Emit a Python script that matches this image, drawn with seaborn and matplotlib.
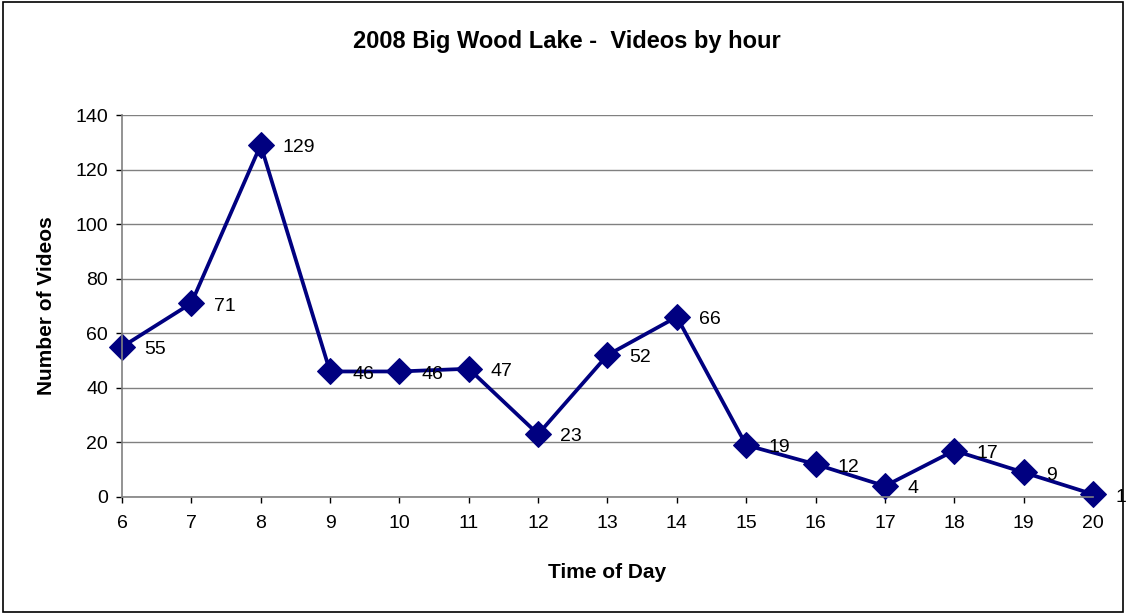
import matplotlib
matplotlib.use("Agg")
import matplotlib.pyplot as plt
import seaborn as sns
import pandas as pd
from matplotlib.patches import Rectangle

hours = [6, 7, 8, 9, 10, 11, 12, 13, 14, 15, 16, 17, 18, 19, 20]
videos = [55, 71, 129, 46, 46, 47, 23, 52, 66, 19, 12, 4, 17, 9, 1]

df = pd.DataFrame({"hour": hours, "videos": videos})

sns.set_style("white")
plt.rcParams["font.family"] = ["Liberation Sans", "DejaVu Sans"]
plt.rcParams["text.color"] = "black"
plt.rcParams["axes.labelcolor"] = "black"
plt.rcParams["xtick.color"] = "black"
plt.rcParams["ytick.color"] = "black"

fig = plt.figure(figsize=(11.26, 6.14), dpi=100)
ax = fig.add_axes([0.1083, 0.1906, 0.8624, 0.6221])

sns.lineplot(data=df, x="hour", y="videos", ax=ax, color="#000080",
             linewidth=2.7, marker="D", markersize=13,
             markeredgecolor="#000080", markerfacecolor="#000080", clip_on=False)

for h, v in zip(hours, videos):
    ax.annotate(str(v), (h, v), xytext=(16, -2), textcoords="offset points",
                ha="left", va="center", fontsize=14, color="black",
                annotation_clip=False)

ax.set_xlim(6, 20)
ax.set_ylim(0, 140)
ax.set_xticks(hours)
ax.set_yticks(range(0, 141, 20))
ax.tick_params(axis="both", labelsize=14, length=4, width=1,
               direction="out", bottom=True, left=True, pad=6)
ax.tick_params(axis="x", pad=9)
ax.yaxis.grid(True, color="#808080", linewidth=1)
ax.xaxis.grid(False)
ax.set_axisbelow(True)
for side in ["top", "right"]:
    ax.spines[side].set_visible(False)
for side in ["left", "bottom"]:
    ax.spines[side].set_color("#808080")
    ax.spines[side].set_linewidth(1.2)

ax.set_xlabel("Time of Day", fontsize=15, fontweight="bold", labelpad=22)
ax.set_ylabel("Number of Videos", fontsize=15, fontweight="bold", labelpad=14)
fig.text(0.503, 0.932, "2008 Big Wood Lake -  Videos by hour", ha="center",
         va="center", fontsize=17, fontweight="bold")

fig.patches.append(Rectangle((0.003, 0.003), 0.994, 0.994, transform=fig.transFigure,
                             fill=False, edgecolor="black", linewidth=1.2))

fig.savefig("out.png", dpi=100)
